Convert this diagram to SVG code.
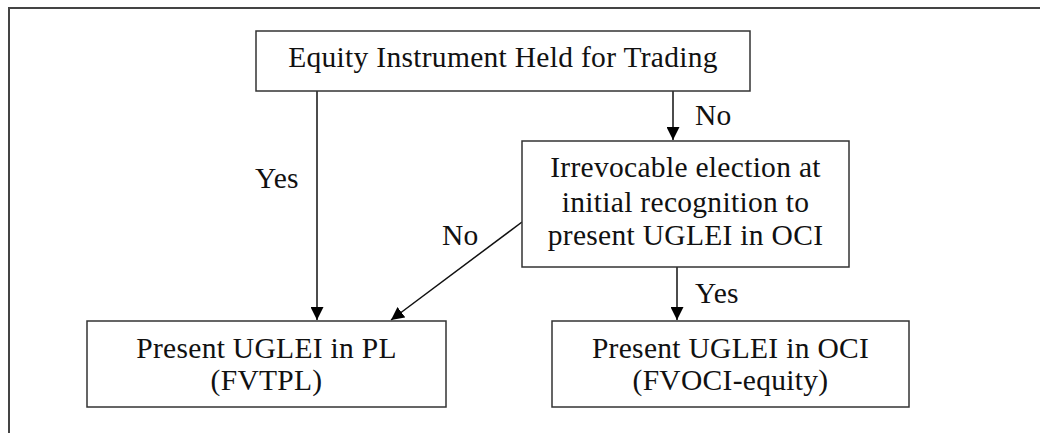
<svg xmlns="http://www.w3.org/2000/svg" width="1040" height="433" viewBox="0 0 1040 433">
<defs>
<style>
.box{fill:#fff;stroke:#333;stroke-width:1.5}
.t{font-family:"Liberation Serif","Times New Roman",serif;font-size:29.5px;letter-spacing:0.3px;fill:#111;text-anchor:middle}
.l{font-family:"Liberation Serif","Times New Roman",serif;font-size:29.5px;letter-spacing:0.3px;fill:#111}
.c{stroke:#111;stroke-width:1.5;fill:none;marker-end:url(#ah)}
.frame{stroke:#444;stroke-width:2;fill:none}
</style>
<marker id="ah" viewBox="0 0 10 10" refX="10" refY="5" markerWidth="13" markerHeight="13" markerUnits="userSpaceOnUse" orient="auto">
<path d="M0,0 L10,5 L0,10 z" fill="#000"/>
</marker>
</defs>
<rect width="1040" height="433" fill="#fff"/>
<path class="frame" d="M9,433 L9,8 L1040,8"/>
<g id="connectors">
<line class="c" x1="317" y1="91" x2="317" y2="320"/>
<line class="c" x1="673" y1="91" x2="673" y2="140"/>
<line class="c" x1="522" y1="222" x2="391" y2="320"/>
<line class="c" x1="677" y1="267" x2="677" y2="320"/>
<text class="l" x="255" y="188">Yes</text>
<text class="l" x="695" y="125">No</text>
<text class="l" x="442" y="245">No</text>
<text class="l" x="695" y="303">Yes</text>
</g>
<g id="n-trading">
<rect class="box" x="256" y="31" width="494" height="60"/>
<text class="t" x="503" y="67">Equity Instrument Held for Trading</text>
</g>
<g id="n-election">
<rect class="box" x="522" y="141" width="327" height="126"/>
<text class="t" x="685.5" y="177">Irrevocable election at</text>
<text class="t" x="685.5" y="212">initial recognition to</text>
<text class="t" x="685.5" y="245">present UGLEI in OCI</text>
</g>
<g id="n-fvtpl">
<rect class="box" x="87" y="321" width="359" height="86"/>
<text class="t" x="266.5" y="358">Present UGLEI in PL</text>
<text class="t" x="266.5" y="390">(FVTPL)</text>
</g>
<g id="n-fvoci">
<rect class="box" x="552" y="321" width="357" height="86"/>
<text class="t" x="730.5" y="358">Present UGLEI in OCI</text>
<text class="t" x="730.5" y="390">(FVOCI-equity)</text>
</g>
</svg>
